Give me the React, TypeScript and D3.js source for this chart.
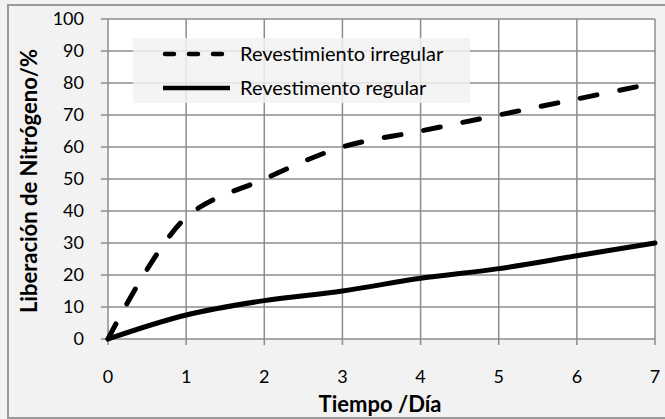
import React from "react";
import * as d3 from "d3";

const days = [0, 1, 2, 3, 4, 5, 6, 7];
const irregular = [0, 38, 50, 60, 65, 70, 75, 80];
const regular = [0, 7.5, 12, 15, 19, 22, 26, 30];
const xTicks = [0, 1, 2, 3, 4, 5, 6, 7];
const yTicks = [0, 10, 20, 30, 40, 50, 60, 70, 80, 90, 100];
const seriesNames = ["Revestimiento irregular", "Revestimento regular"];
const xTitle = "Tiempo /Día";
const yTitle = "Liberación de Nitrógeno/%";

export default function App() {
  const W = 665, H = 419;
  const left = 108, right = 655, top = 19, bottom = 339;
  const x = d3.scaleLinear().domain([0, 7]).range([left, right]);
  const y = d3.scaleLinear().domain([0, 100]).range([bottom, top]);
  const line = d3
    .line<number>()
    .x((_, i) => x(days[i]))
    .y((d) => y(d))
    .curve(d3.curveCatmullRom.alpha(0.5));
  const font = "Lato, sans-serif";
  const grid = "#8c8c8c";
  return (
    <svg width={W} height={H} style={{ position: "absolute", left: 0, top: 0 }}>
      <rect x={0} y={0} width={W} height={H} fill="#f2f2f2" />
      <rect x={8} y={5} width={W} height={H - 6} fill="none" stroke="#9a9a9a" strokeWidth={2} />
      <rect x={left} y={top} width={right - left} height={bottom - top} fill="#ffffff" />
      {yTicks.map((t) => (
        <line key={"gy" + t} x1={left - 7} x2={right} y1={y(t)} y2={y(t)} stroke={grid} strokeWidth={1.5} />
      ))}
      {xTicks.map((t) => (
        <line key={"gx" + t} x1={x(t)} x2={x(t)} y1={top} y2={bottom + 6} stroke={grid} strokeWidth={1.5} />
      ))}
      {yTicks.map((t) => (
        <text key={"ly" + t} x={84} y={y(t)} dy="0.35em" textAnchor="end" fontFamily={font} fontSize={18} fill="#000">
          {t}
        </text>
      ))}
      {xTicks.map((t) => (
        <text key={"lx" + t} x={x(t)} y={377} dy="0.35em" textAnchor="middle" fontFamily={font} fontSize={18} fill="#000">
          {t}
        </text>
      ))}
      <text x={380} y={404} dy="0.35em" textAnchor="middle" fontFamily={font} fontSize={22} fontWeight="bold">
        {xTitle}
      </text>
      <text
        transform={`translate(29, ${(top + bottom) / 2 + 2}) rotate(-90)`}
        dy="0.35em"
        textAnchor="middle"
        fontFamily={font}
        fontSize={22}
        fontWeight="bold"
      >
        {yTitle}
      </text>
      <path d={line(regular) || ""} fill="none" stroke="#000" strokeWidth={5} strokeLinecap="round" strokeLinejoin="round" />
      <path
        d={line(irregular) || ""}
        fill="none"
        stroke="#000"
        strokeWidth={5}
        strokeDasharray="17 23"
        strokeLinecap="round"
      />
      <rect x={133} y={38} width={337} height={65} fill="rgba(242,242,242,0.85)" />
      <line x1={165} x2={225} y1={54} y2={54} stroke="#000" strokeWidth={4.5} strokeDasharray="9 15" strokeLinecap="round" />
      <line x1={163} x2={230} y1={88} y2={88} stroke="#000" strokeWidth={4.5} />
      <text x={240} y={54} dy="0.35em" fontFamily={font} fontSize={20}>
        {seriesNames[0]}
      </text>
      <text x={240} y={88} dy="0.35em" fontFamily={font} fontSize={20}>
        {seriesNames[1]}
      </text>
    </svg>
  );
}
